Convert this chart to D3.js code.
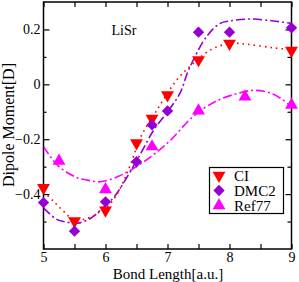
<!DOCTYPE html>
<html><head><meta charset="utf-8">
<script src="https://cdn.jsdelivr.net/npm/d3@7"></script>
<style>body{margin:0;background:#fff}svg{display:block}text{font-family:"Liberation Serif","Times New Roman",serif}</style>
</head><body>
<svg id="c" width="299" height="282"></svg>
<script>
// Data
const ciX = [5, 5.5, 6, 6.5, 6.75, 7, 7.5, 8, 9];
const ciY = [-0.377, -0.498, -0.459, -0.214, -0.124, -0.039, 0.089, 0.149, 0.123];
const dmcX = [5, 5.5, 6, 6.5, 6.75, 7, 7.5, 8, 9];
const dmcY = [-0.431, -0.535, -0.428, -0.282, -0.148, -0.097, 0.19, 0.19, 0.206];
const refX = [5.25, 6, 6.75, 7.5, 8.25, 9];
const refY = [-0.279, -0.383, -0.227, -0.096, -0.045, -0.075];
// fitted curves
const ciFitX = [5.0, 5.17, 5.33, 5.49, 5.71, 5.87, 6.08, 6.25, 6.41, 6.57, 6.83, 7.15, 7.42, 7.69, 8.0, 8.28, 8.71, 9.0];
const ciFitY = [-0.391, -0.428, -0.464, -0.494, -0.488, -0.470, -0.434, -0.373, -0.288, -0.191, -0.094, 0.016, 0.077, 0.125, 0.149, 0.146, 0.133, 0.125];
const dmcFitX = [5.0, 5.21, 5.33, 5.55, 5.76, 5.92, 6.14, 6.35, 6.57, 6.78, 7.0, 7.2, 7.34, 7.63, 7.85, 8.01, 8.33, 8.71, 9.0];
const dmcFitY = [-0.45, -0.492, -0.50, -0.506, -0.488, -0.458, -0.410, -0.337, -0.251, -0.166, -0.10, -0.033, 0.052, 0.174, 0.222, 0.231, 0.238, 0.231, 0.222];
const refFitX = [5.0, 5.24, 5.54, 5.71, 5.92, 6.19, 6.41, 6.73, 7.05, 7.4, 7.75, 8.1, 8.4, 8.7, 9.0];
const refFitY = [-0.227, -0.298, -0.340, -0.349, -0.355, -0.337, -0.312, -0.264, -0.203, -0.12, -0.065, -0.035, -0.022, -0.035, -0.08];
const xTicks = [5, 6, 7, 8, 9];
const yTicks = [-0.4, -0.2, 0, 0.2];
const xMinor = [5.5, 6.5, 7.5, 8.5];
const yMinor = [-0.5, -0.3, -0.1, 0.1];
const legendNames = ["CI", "DMC2", "Ref77"];

const svg = d3.select("#c");
const L = 43.5, R = 291.5, T = 2, B = 249;
const x = d3.scaleLinear().domain([5, 9]).range([L, R]);
const y = d3.scaleLinear().domain([-0.6, 0.3]).range([B, T]);
const SERIF = '"Liberation Serif","Times New Roman",serif';

const g = svg.append("g");
svg.append("defs").append("clipPath").attr("id","clip").append("rect")
  .attr("x", L).attr("y", T).attr("width", R-L).attr("height", B-T);

function axisTicks(axisGen, tr) {
  const a = g.append("g").attr("transform", tr).call(axisGen).attr("font-family", SERIF);
  a.select(".domain").remove();
  a.selectAll("line").attr("stroke", "#000").attr("stroke-width", 1.2);
  return a;
}
const fs = "14px";
axisTicks(d3.axisBottom(x).tickValues(xTicks).tickSize(-5).tickPadding(3).tickFormat(d3.format("d")), `translate(0,${B})`)
  .selectAll("text").attr("font-size", fs).attr("fill", "#000");
axisTicks(d3.axisBottom(x).tickValues(xMinor).tickSize(-5).tickFormat(""), `translate(0,${B})`);
axisTicks(d3.axisTop(x).tickValues(xTicks.concat(xMinor)).tickSize(-5).tickFormat(""), `translate(0,${T})`);
axisTicks(d3.axisLeft(y).tickValues(yTicks).tickSize(-6).tickPadding(3).tickFormat(d => d === 0 ? "0" : d3.format(".1f")(d)), `translate(${L},0)`)
  .selectAll("text").attr("font-size", fs).attr("fill", "#000");
axisTicks(d3.axisLeft(y).tickValues(yMinor).tickSize(-3).tickFormat(""), `translate(${L},0)`);
axisTicks(d3.axisRight(y).tickValues(yTicks).tickSize(-6).tickFormat(""), `translate(${R},0)`);
axisTicks(d3.axisRight(y).tickValues(yMinor).tickSize(-4).tickFormat(""), `translate(${R},0)`);

g.append("rect").attr("x", L).attr("y", T).attr("width", R-L).attr("height", B-T)
  .attr("fill", "none").attr("stroke", "#000").attr("stroke-width", 1.5);

const line = d3.line().x(d => x(d[0])).y(d => y(d[1])).curve(d3.curveCatmullRom.alpha(0.5));
const plot = g.append("g").attr("clip-path", "url(#clip)");
plot.append("path").datum(d3.zip(refFitX, refFitY)).attr("d", line)
  .attr("fill","none").attr("stroke","#ff00ff").attr("stroke-width",1.6).attr("stroke-dasharray","9,3,2,3");
plot.append("path").datum(d3.zip(dmcFitX, dmcFitY)).attr("d", line)
  .attr("fill","none").attr("stroke","#9400d3").attr("stroke-width",1.6).attr("stroke-dasharray","9,3,2,3");
plot.append("path").datum(d3.zip(ciFitX, ciFitY)).attr("d", line)
  .attr("fill","none").attr("stroke","#ff0000").attr("stroke-width",1.6).attr("stroke-dasharray","1.6,4");

const triDown = d3.symbol().type(d3.symbolTriangle).size(72);
const diam = d3.symbol().type(d3.symbolSquare).size(64);
function markerTransform(kind, px, py) {
  const t = `translate(${px},${py})`;
  if (kind === "down") return t + " rotate(180)";
  if (kind === "diamond") return t + " rotate(45)";
  return t;
}
function drawMarkers(xs, ys, kind, color) {
  g.append("g").selectAll("path").data(d3.zip(xs, ys)).join("path")
    .attr("d", kind === "diamond" ? diam() : triDown())
    .attr("transform", d => markerTransform(kind, x(d[0]), y(d[1])))
    .attr("fill", color);
}
drawMarkers(refX, refY, "up", "#ff00ff");
drawMarkers(ciX, ciY, "down", "#ff0000");
drawMarkers(dmcX, dmcY, "diamond", "#9400d3");

g.append("text").attr("x", 124).attr("y", 35).attr("text-anchor","middle").attr("font-size","14px").text("LiSr");
g.append("text").attr("x", 168).attr("y", 279).attr("text-anchor","middle").attr("font-size","15px").text("Bond Length[a.u.]");
g.append("text").attr("transform", `translate(14,125) rotate(-90)`).attr("text-anchor","middle").attr("font-size","16px").text("Dipole Moment[D]");

const lg = g.append("g");
lg.append("rect").attr("x", 209.5).attr("y", 167.5).attr("width", 74).attr("height", 46)
  .attr("fill","#fff").attr("stroke","#000").attr("stroke-width",1.2);
const legKinds = ["down","diamond","up"], legColors = ["#ff0000","#9400d3","#ff00ff"];
legendNames.forEach((n, i) => {
  const cy = 175.5 + i * 15;
  lg.append("path").attr("d", legKinds[i] === "diamond" ? diam() : triDown())
    .attr("transform", markerTransform(legKinds[i], 219, cy))
    .attr("fill", legColors[i]);
  lg.append("text").attr("x", 234).attr("y", cy + 5).attr("font-size","15px").text(n);
});
</script>
</body></html>
